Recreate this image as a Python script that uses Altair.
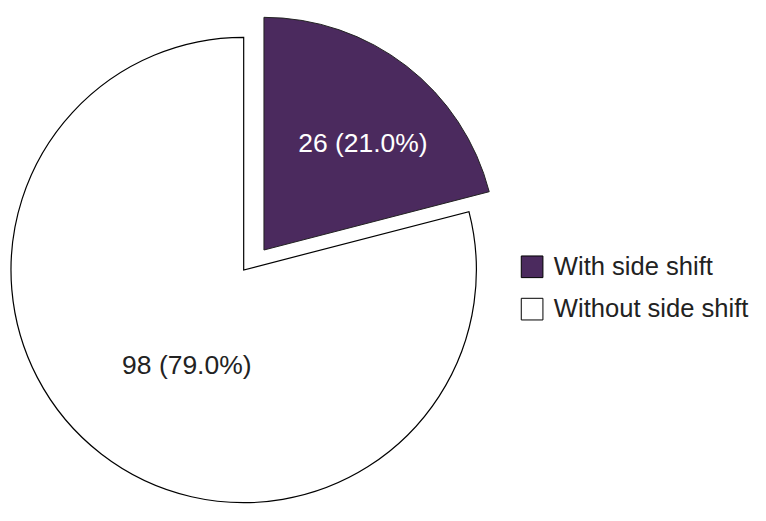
import altair as alt
import pandas as pd

categories = ["With side shift", "Without side shift"]
values = [26, 98]
colors = ["#4b2a5e", "#ffffff"]
label_colors = ["#ffffff", "#222222"]
order = [0, 1]

df = pd.DataFrame({"cat": categories, "value": values, "order": order,
                   "lcolor": label_colors})
total = sum(values)
FONT = "Liberation Sans"

base = alt.Chart(df).transform_joinaggregate(
    total="sum(value)"
).transform_window(
    cum="sum(value)", sort=[alt.SortField("order")], frame=[None, 0]
).transform_calculate(
    t0="datum.cum - datum.value",
    mid="datum.cum - datum.value / 2",
    label="datum.value + ' (' + format(datum.value / datum.total * 100, '.1f') + '%)'"
)

theta_scale = alt.Scale(domain=[0, total])
color_enc = alt.Color("cat:N", scale=alt.Scale(domain=categories, range=colors),
                      legend=alt.Legend(title=None, orient="none", legendX=511, legendY=246,
                                        symbolType="square", symbolSize=470,
                                        symbolStrokeColor="black", symbolStrokeWidth=1,
                                        labelFont=FONT, labelFontSize=25.6, labelColor="#222222",
                                        labelOffset=9, rowPadding=14.4, padding=0,
                                        labelLimit=0))

CX, CY = 235, 262
PX, PY = 255.3, 242
R = 233

white = base.transform_filter(alt.datum.order == 1).mark_arc(
    stroke="black", strokeWidth=1.2, outerRadius=R, x=CX, y=CY
).encode(theta=alt.Theta("t0:Q", scale=theta_scale), theta2="cum:Q", color=color_enc)

purple = base.transform_filter(alt.datum.order == 0).mark_arc(
    stroke="#222222", strokeWidth=1, outerRadius=R, x=PX, y=PY
).encode(theta=alt.Theta("t0:Q", scale=theta_scale), theta2="cum:Q", color=color_enc)

tw = base.transform_filter(alt.datum.order == 1).mark_text(
    radius=111, x=CX, y=CY, dx=11, dy=8, font=FONT, fontSize=26.5, color="#222222"
).encode(theta=alt.Theta("mid:Q", scale=theta_scale), text="label:N")

tp = base.transform_filter(alt.datum.order == 0).mark_text(
    radius=144, x=PX, y=PY, dx=11, dy=8, font=FONT, fontSize=26.5, color="#ffffff"
).encode(theta=alt.Theta("mid:Q", scale=theta_scale), text="label:N")

chart = alt.layer(white, purple, tw, tp).properties(
    width=750, height=505, padding=0
).configure_view(stroke=None).configure(background="white")

chart.save("out.html", embed_options={"renderer": "svg", "actions": False})
